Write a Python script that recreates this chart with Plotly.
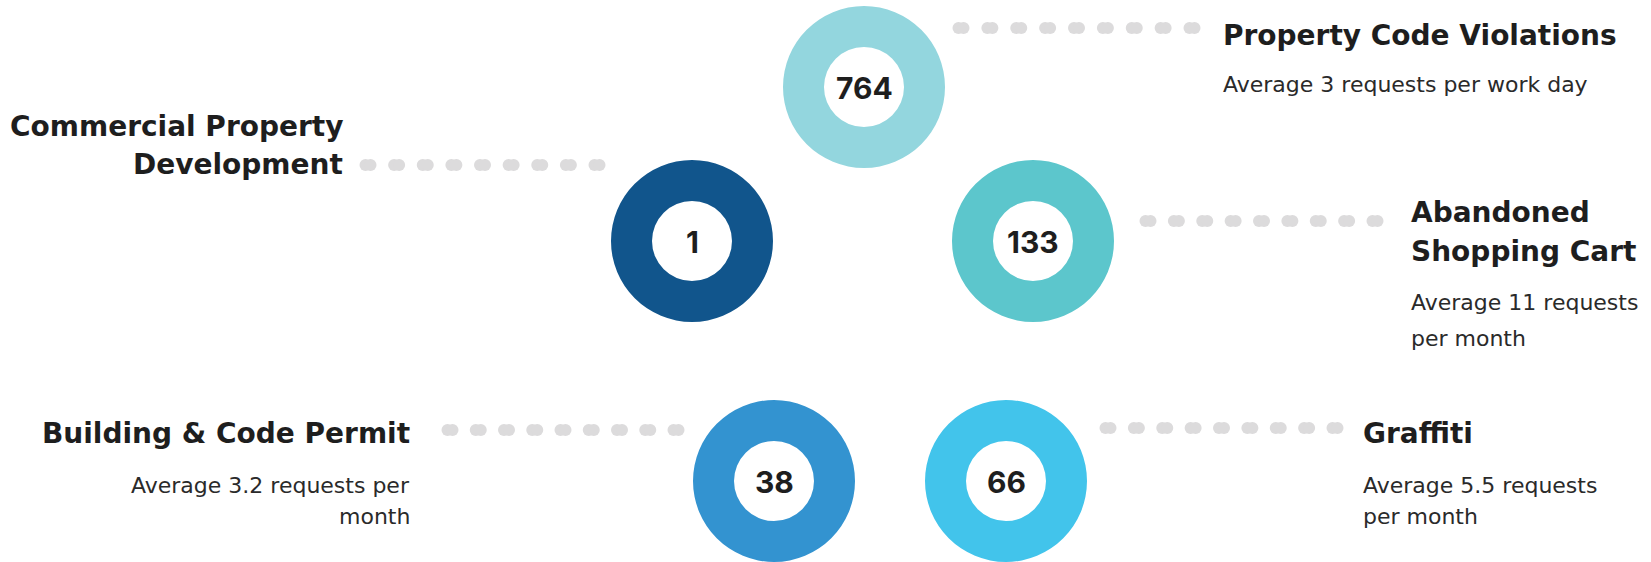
import plotly.graph_objects as go
import numpy as np

W, H = 1651, 562

# ---- data ----
categories = ["Property Code Violations", "Commercial Property Development",
              "Abandoned Shopping Cart", "Building & Code Permit", "Graffiti"]
title_lines = [["Property Code Violations"],
               ["Commercial Property", "Development"],
               ["Abandoned", "Shopping Cart"],
               ["Building & Code Permit"],
               ["Graffiti"]]
request_counts = [764, 1, 133, 38, 66]
subtitle_lines = [["Average 3 requests per work day"],
                  [],
                  ["Average 11 requests", "per month"],
                  ["Average 3.2 requests per", "month"],
                  ["Average 5.5 requests", "per month"]]
colors = ["#93D6DE", "#11558C", "#5CC6CC", "#3393D0", "#42C4EB"]

# ---- layout (pixels) ----
centers = [(864, 87), (692, 241), (1033, 241), (774, 481), (1006, 481)]
R_OUT, R_IN = 81, 40
# connector: (first dot centre x, last dot centre x, y)
connectors = [(961, 1192, 28), (368, 597, 165), (1148, 1375, 221),
              (450, 676, 430), (1108, 1335, 428)]
# text block: anchor x, align, title y centers, subtitle y centers
text_blocks = [
    (1221, "left", [35], [84]),
    (345, "right", [126, 164], []),
    (1409, "left", [212, 251], [302, 338]),
    (412, "right", [433], [485, 516]),
    (1361, "left", [433], [485, 516]),
]

TXT_FONT = "DejaVu Sans"
NUM_FONT = "Inter"

fig = go.Figure()

# connectors (pill-shaped dots)
for (x0, x1, y) in connectors:
    xs = np.linspace(x0, x1, 9)
    px = np.concatenate([xs - 2.5, xs + 2.5])
    fig.add_trace(go.Scatter(x=px, y=[y] * len(px), mode="markers",
                             marker=dict(size=12, color="#DCDBDC", line=dict(width=0)),
                             hoverinfo="skip", showlegend=False))

# donuts
for i, (cx, cy) in enumerate(centers):
    fig.add_trace(go.Pie(values=[request_counts[i]], labels=[categories[i]],
                         hole=R_IN / R_OUT, sort=False,
                         marker=dict(colors=[colors[i]], line=dict(width=0)),
                         textinfo="none", hoverinfo="label+value", showlegend=False,
                         domain=dict(x=[(cx - R_OUT) / W, (cx + R_OUT) / W],
                                     y=[1 - (cy + R_OUT) / H, 1 - (cy - R_OUT) / H])))
    fig.add_annotation(x=cx, y=cy + 1, text=f"<b>{request_counts[i]}</b>",
                       showarrow=False, xanchor="center", yanchor="middle",
                       font=dict(family=NUM_FONT, size=30, color="#1E1E1E"))

# labels
for i, (ax, align, tys, sys_) in enumerate(text_blocks):
    for line, y in zip(title_lines[i], tys):
        fig.add_annotation(x=ax, y=y, text=f"<b>{line}</b>", showarrow=False,
                           xanchor=align, yanchor="middle",
                           font=dict(family=TXT_FONT, size=28, color="#1E1E1E"))
    for line, y in zip(subtitle_lines[i], sys_):
        fig.add_annotation(x=ax, y=y, text=line, showarrow=False,
                           xanchor=align, yanchor="middle",
                           font=dict(family=TXT_FONT, size=22, color="#2A2A2A"))

fig.update_layout(
    width=W, height=H, margin=dict(l=0, r=0, t=0, b=0),
    paper_bgcolor="white", plot_bgcolor="white",
    xaxis=dict(range=[0, W], visible=False, fixedrange=True),
    yaxis=dict(range=[H, 0], visible=False, fixedrange=True),
)

fig.write_html("out.html", config={"displayModeBar": False},
               post_script="document.body.style.margin='0';document.body.style.overflow='hidden';")
